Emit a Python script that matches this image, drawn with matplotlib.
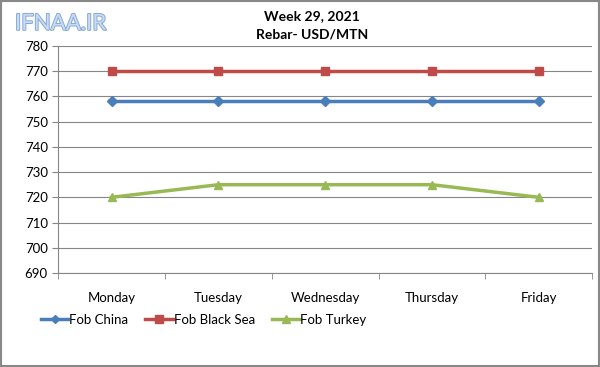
import numpy as np
import matplotlib.pyplot as plt
from matplotlib import patheffects

plt.rcParams['font.family'] = ['Lato', 'DejaVu Sans']

# Data
days = ['Monday', 'Tuesday', 'Wednesday', 'Thursday', 'Friday']
fob_china = [758, 758, 758, 758, 758]
fob_black_sea = [770, 770, 770, 770, 770]
fob_turkey = [720, 725, 725, 725, 720]

fig = plt.figure(figsize=(6, 3.67), dpi=100)
ax = fig.add_axes([0.097, 0.256, 0.89, 0.619])

x = np.arange(len(days))
ax.plot(x, fob_china, color='#4A7EBB', lw=2.5, marker='D', ms=5, label='Fob China')
ax.plot(x, fob_black_sea, color='#BE4B48', lw=2.5, marker='s', ms=6, label='Fob Black Sea')
ax.plot(x, fob_turkey, color='#98B954', lw=2.5, marker='^', ms=6, label='Fob Turkey')

ax.set_xlim(-0.5, 4.5)
ax.set_ylim(690, 780)
ax.set_yticks(np.arange(690, 781, 10))
ax.set_xticks(x)
ax.set_xticklabels(days)
ax.set_xticks(np.arange(-0.5, 4.6, 1), minor=True)
ax.tick_params(axis='x', which='major', length=0, pad=14, labelsize=9.5)
ax.tick_params(axis='x', which='minor', length=4, color='#868686')
ax.tick_params(axis='y', length=4, color='#868686', labelsize=9.5)
ax.grid(axis='y', color='#868686', lw=0.8)
ax.set_axisbelow(True)
for s in ['top', 'right']:
    ax.spines[s].set_visible(False)
for s in ['left', 'bottom']:
    ax.spines[s].set_color('#868686')

fig.text(0.52, 0.955, 'Week 29, 2021', ha='center', va='center', fontsize=10, fontweight='bold')
fig.text(0.52, 0.905, 'Rebar- USD/MTN', ha='center', va='center', fontsize=10, fontweight='bold')

# faint watermark
wm = fig.text(0.025, 0.935, 'IFNAA.IR', ha='left', va='center', fontsize=16, color='#c9dbf0')
wm.set_path_effects([patheffects.withStroke(linewidth=1.4, foreground='#86a9d8')])

fig.legend(loc='center left', bbox_to_anchor=(0.048, 0.128), ncol=3, frameon=False,
           fontsize=9.5, handlelength=2.1, columnspacing=1.3, handletextpad=0.05,
           markerscale=0.85)

fig.patches.append(plt.Rectangle((0.002, 0.003), 0.996, 0.994, transform=fig.transFigure,
                                 fill=False, edgecolor='#888888', lw=1.5))

fig.savefig('out.png', dpi=100)
